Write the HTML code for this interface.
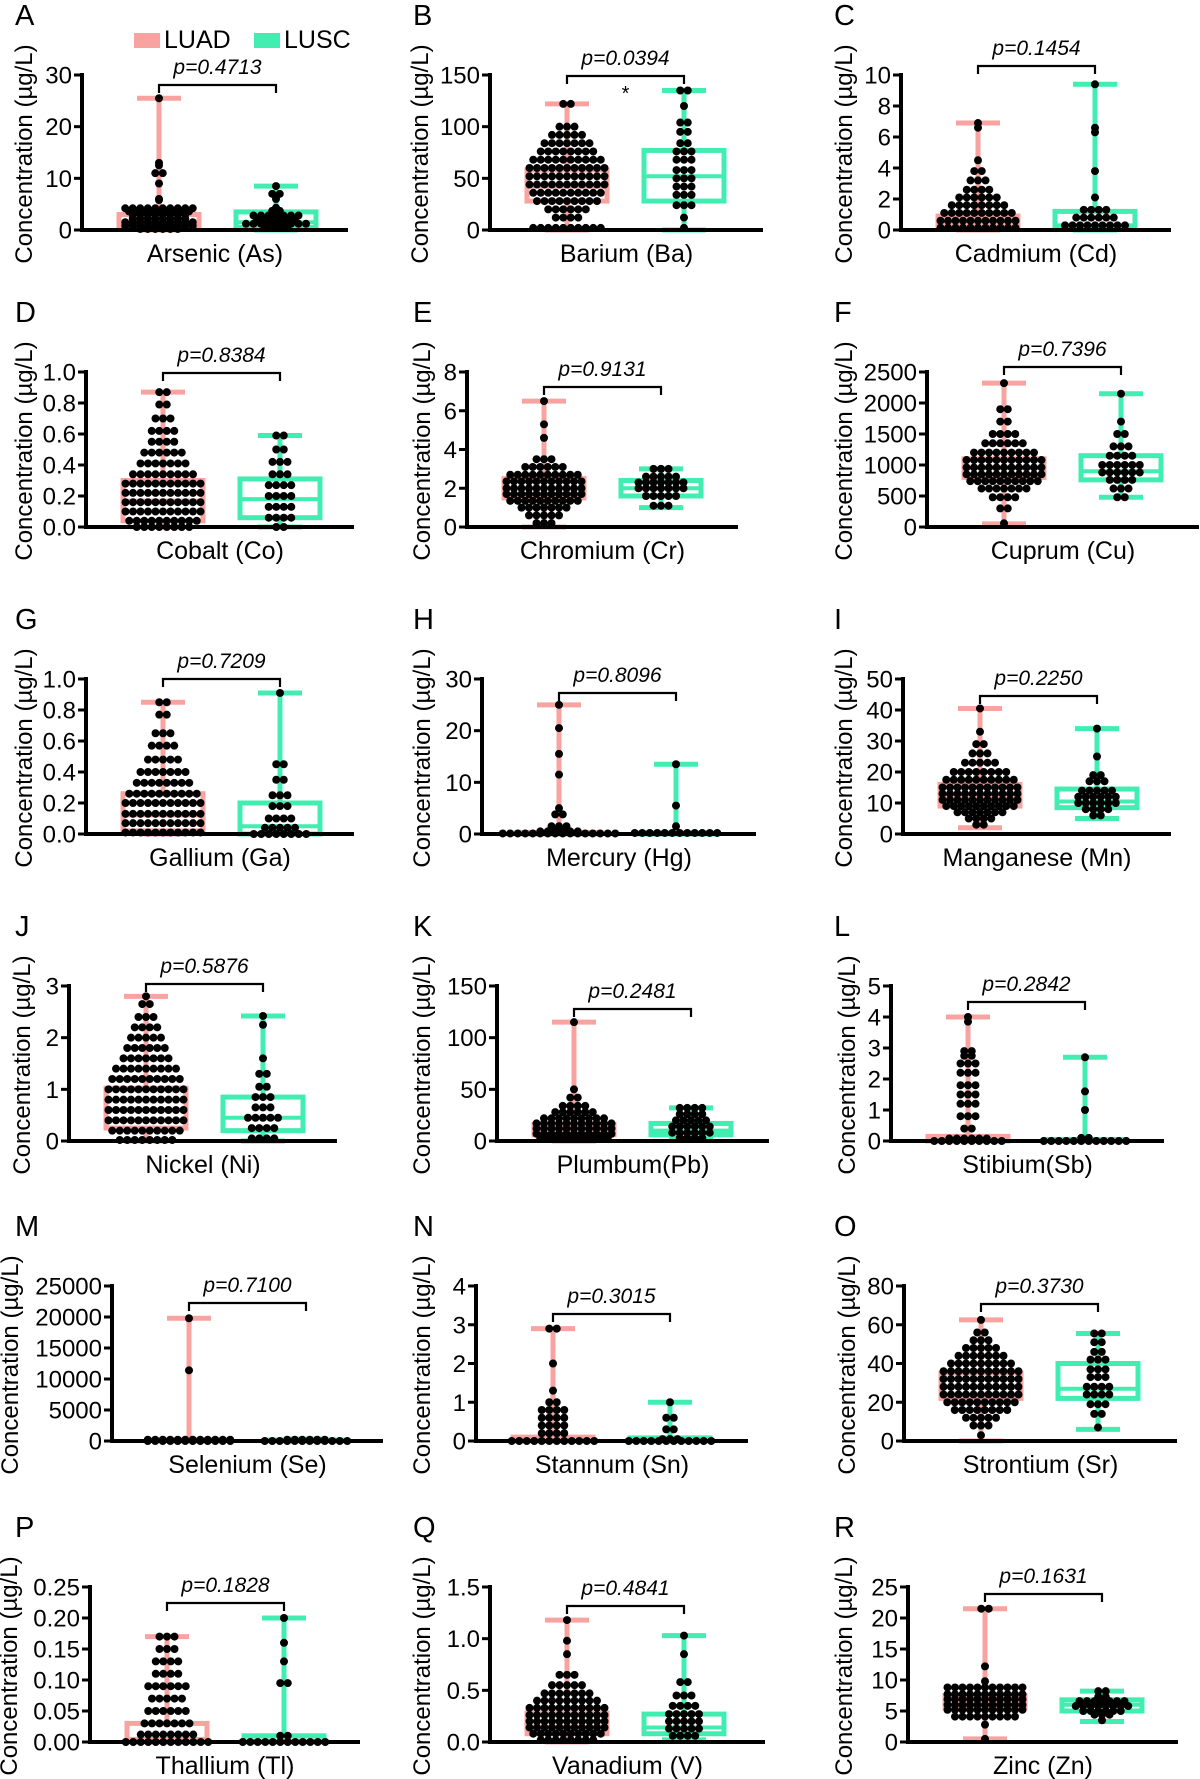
<!DOCTYPE html>
<html><head><meta charset="utf-8">
<style>
html,body{margin:0;padding:0;background:#fff;}
svg{display:block;font-family:"Liberation Sans",Arial,sans-serif;}
</style></head>
<body>
<svg id="fig" width="1200" height="1779" viewBox="0 0 1200 1779" xmlns="http://www.w3.org/2000/svg">
<g>
<rect x="134" y="33" width="26" height="15" fill="#F9A3A0"/>
<text x="164" y="48" font-size="25">LUAD</text>
<rect x="254" y="33" width="26" height="15" fill="#41EDB1"/>
<text x="284" y="48" font-size="25">LUSC</text>
</g>
</svg>
<script>
const letters=["A","B","C","D","E","F","G","H","I","J","K","L","M","N","O","P","Q","R"];
const elementNames=["Arsenic (As)","Barium (Ba)","Cadmium (Cd)","Cobalt (Co)","Chromium (Cr)","Cuprum (Cu)","Gallium (Ga)","Mercury (Hg)","Manganese (Mn)","Nickel (Ni)","Plumbum(Pb)","Stibium(Sb)","Selenium (Se)","Stannum (Sn)","Strontium (Sr)","Thallium (Tl)","Vanadium (V)","Zinc (Zn)"];
const pValues=["p=0.4713","p=0.0394","p=0.1454","p=0.8384","p=0.9131","p=0.7396","p=0.7209","p=0.8096","p=0.2250","p=0.5876","p=0.2481","p=0.2842","p=0.7100","p=0.3015","p=0.3730","p=0.1828","p=0.4841","p=0.1631"];
const yMaxes=[30,150,10,1.0,8,2500,1.0,30,50,3,150,5,25000,4,80,0.25,1.5,25];
const tickLabels=[
["0","10","20","30"],["0","50","100","150"],["0","2","4","6","8","10"],
["0.0","0.2","0.4","0.6","0.8","1.0"],["0","2","4","6","8"],["0","500","1000","1500","2000","2500"],
["0.0","0.2","0.4","0.6","0.8","1.0"],["0","10","20","30"],["0","10","20","30","40","50"],
["0","1","2","3"],["0","50","100","150"],["0","1","2","3","4","5"],
["0","5000","10000","15000","20000","25000"],["0","1","2","3","4"],["0","20","40","60","80"],
["0.00","0.05","0.10","0.15","0.20","0.25"],["0.0","0.5","1.0","1.5"],["0","5","10","15","20","25"]];
// box stats [min,q1,median,q3,max]
const luadBox=[[0,0.5,1.5,3,25.5],[0,28,42,58,122],[0,0.1,0.4,0.9,6.9],[0,0.04,0.17,0.3,0.87],[0,1.5,2,2.5,6.5],[50,800,950,1100,2320],[0,0.02,0.12,0.26,0.85],[0,0,0.1,0.3,25],[2,9,12,16,40.5],[0,0.25,0.6,1.02,2.8],[0,6,10,16,115],[0,0,0.02,0.15,4.0],[0,50,100,200,19800],[0,0,0.05,0.1,2.9],[0,22,28,35,62.5],[0,0,0.005,0.03,0.17],[0,0.08,0.15,0.28,1.18],[0.5,5.5,6.5,7.5,21.5]];
const luscBox=[[0,0.5,1.5,3.5,8.5],[0,28,52,77,135],[0,0.1,0.3,1.2,9.4],[0,0.06,0.18,0.31,0.59],[1,1.6,2.0,2.4,3.0],[480,760,900,1150,2150],[0,0,0.05,0.2,0.91],[0,0,0.05,0.2,13.5],[5,8.5,10.5,14.5,34],[0,0.2,0.45,0.85,2.42],[2,6,10,17,32],[0,0,0.01,0.05,2.7],[0,30,80,150,300],[0,0,0.02,0.08,1.0],[6,22,27,40,55.5],[0,0,0.002,0.01,0.2],[0.02,0.08,0.14,0.27,1.03],[3.3,5,6,6.8,8.2]];
// points as [value,count]
const luadPts=[
[[25.5,1],[13,1],[12.5,1],[11,2],[9,1],[6,1],[5.8,1],[4.2,10],[3.6,9],[3,8],[2.2,8],[1.5,10],[0.8,10],[0.2,6]],
[[122,2],[100,3],[92,5],[84,7],[76,8],[68,10],[60,11],[52,11],[44,11],[36,10],[28,9],[20,6],[12,4],[2,10]],
[[6.9,1],[6.6,1],[4.5,1],[3.8,2],[3.2,3],[2.6,4],[2.1,6],[1.6,8],[1.1,10],[0.6,11],[0.15,11]],
[[0.87,2],[0.79,2],[0.7,3],[0.62,4],[0.55,4],[0.48,6],[0.41,7],[0.34,9],[0.28,11],[0.22,11],[0.16,11],[0.1,11],[0.04,10],[0,8]],
[[6.5,1],[5.3,1],[4.6,1],[3.5,3],[3.1,6],[2.7,10],[2.35,11],[2,11],[1.7,11],[1.35,10],[1,7],[0.6,5],[0.2,3]],
[[2320,1],[1900,2],[1700,2],[1500,4],[1350,6],[1200,9],[1080,11],[960,11],[850,11],[740,10],[620,7],[480,4],[300,2],[60,1]],
[[0.85,2],[0.77,2],[0.65,3],[0.57,4],[0.48,5],[0.4,7],[0.33,8],[0.26,10],[0.2,11],[0.13,11],[0.07,11],[0.01,11]],
[[25,1],[20.5,1],[15.5,1],[11.5,1],[5,1],[3.8,2],[1.5,3],[0.5,6],[0.1,16]],
[[40.5,1],[33,1],[29,2],[26,3],[23,5],[20,8],[17.5,10],[15,11],[13,11],[11,11],[9,10],[7,7],[5,4],[3,2]],
[[2.8,1],[2.65,2],[2.4,3],[2.2,4],[2.0,5],[1.8,6],[1.6,7],[1.4,9],[1.2,10],[1.0,11],[0.8,11],[0.6,11],[0.4,11],[0.2,10],[0.02,8]],
[[115,1],[50,1],[42,2],[34,4],[28,6],[22,9],[17,11],[12,11],[7,11],[2,10]],
[[4.0,1],[3.85,1],[2.9,2],[2.75,2],[2.5,3],[2.2,3],[1.8,3],[1.5,3],[1.2,3],[0.8,3],[0.4,2],[0.08,6],[0,10]],
[[19800,1],[11400,1],[200,12],[0,12]],
[[2.9,2],[2.0,1],[1.3,1],[1.0,2],[0.8,4],[0.6,4],[0.4,4],[0.2,4],[0,12]],
[[62.5,1],[56,2],[52,3],[48,5],[44,7],[40,9],[36,11],[32,11],[28,11],[24,11],[20,10],[16,8],[12,5],[8,3],[3,1]],
[[0.17,3],[0.15,3],[0.13,4],[0.11,4],[0.09,6],[0.07,5],[0.05,6],[0.03,7],[0.012,8],[0,12]],
[[1.18,1],[0.98,1],[0.85,1],[0.65,3],[0.55,5],[0.47,7],[0.4,9],[0.33,11],[0.26,11],[0.2,11],[0.14,11],[0.08,10],[0.02,8]],
[[21.5,2],[12.2,1],[9.8,1],[8.8,11],[7.7,11],[6.9,11],[6,11],[5.2,11],[4.1,9],[2.8,1],[0.5,1]]];
const luscPts=[
[[8.5,1],[7,2],[6,1],[4.3,1],[3.7,2],[2.8,7],[2,6],[1.2,9],[0.4,4]],
[[135,2],[120,1],[104,2],[95,2],[84,2],[76,3],[68,3],[58,3],[50,3],[42,3],[34,3],[24,3],[12,1],[2,1]],
[[9.4,1],[6.6,1],[6.3,1],[3.8,1],[2.1,1],[1.3,4],[0.8,6],[0.3,9]],
[[0.59,2],[0.5,2],[0.42,3],[0.34,3],[0.27,4],[0.2,4],[0.13,4],[0.06,4],[0,2]],
[[3,3],[2.6,5],[2.3,7],[2,7],[1.6,5],[1.1,3]],
[[2150,1],[1700,1],[1500,2],[1300,3],[1150,4],[1000,6],[880,6],[760,4],[620,3],[480,2]],
[[0.91,1],[0.45,2],[0.35,2],[0.25,3],[0.18,3],[0.1,4],[0.04,5],[0,8]],
[[13.5,1],[5.5,1],[1.5,1],[0.2,12]],
[[34,1],[25,1],[19,2],[17,3],[14,5],[12,6],[10,6],[8,4],[6,2]],
[[2.42,1],[2.25,1],[1.6,1],[1.3,2],[1.05,2],[0.85,3],[0.65,3],[0.45,5],[0.25,4],[0.05,4]],
[[32,4],[26,4],[20,5],[14,6],[8,6],[3,4]],
[[2.7,1],[1.6,1],[1.0,1],[0.1,2],[0,12]],
[[200,6],[0,12]],
[[1.0,1],[0.6,2],[0.3,2],[0.05,3],[0,12]],
[[55.5,2],[51,2],[46,2],[42,3],[37,3],[33,3],[28,4],[24,4],[19,3],[14,2],[7,1]],
[[0.2,1],[0.16,1],[0.13,1],[0.095,2],[0.01,2],[0,12]],
[[1.03,1],[0.85,1],[0.58,2],[0.45,3],[0.35,4],[0.27,5],[0.2,5],[0.13,5],[0.06,4]],
[[8.2,2],[7.3,2],[6.6,7],[5.8,8],[5,6],[4.4,3],[3.5,1]]];

// layout (not data)
const axisXs=[82,490,901,86,467,927,86,482,903,69,497,891,112,476,904,90,490,908];
const axisEnds=[348,763,1171,354,738,1199,354,756,1171,337,769,1164,383,748,1177,360,765,1178];
const rowY0=[230,527,834,1141,1441,1742];
const colLetterX=[15,413,834];
const titleXs=[23,419,843,23,421,843,23,421,843,21,421,846,9,421,846,8,421,843];
const bracketOff=[145,154,164,154,140,160,155,141,138,157,132,139,138,127,137,139,136,148];
const H=155, PINK="#F9A3A0", GREEN="#41EDB1";
const NS="http://www.w3.org/2000/svg";
const svg=document.getElementById('fig');
function mk(tag,attrs,parent,text){const e=document.createElementNS(NS,tag);for(const k in attrs)e.setAttribute(k,attrs[k]);if(text!==undefined)e.textContent=text;parent.appendChild(e);return e;}

for(let i=0;i<18;i++){
  const col=i%3,row=Math.floor(i/3);
  const ax=axisXs[i],y0=rowY0[row],yMax=yMaxes[i];
  const c1=ax+77,c2=ax+194,mid=(c1+c2)/2;
  const ys=v=>y0-(v/yMax)*H;
  const g=mk('g',{},svg);
  
  
  const L=mk('text',{x:colLetterX[col],y:y0-205,'font-size':29},g,letters[i]);
  
  
  const T=mk('text',{x:0,y:0,'font-size':24,'text-anchor':'middle',transform:`translate(${titleXs[i]+9},${y0-76}) rotate(-90)`},g,'Concentration (µg/L)');
  
  
  const groups=[[luadBox[i],luadPts[i],c1,PINK,'luad'],[luscBox[i],luscPts[i],c2,GREEN,'lusc']];
  groups.forEach(([b,pts,cx,c,nm])=>{
    const gg=mk('g',{},g);
    
    
    const hw=40,cw=22;
    mk('line',{x1:cx,x2:cx,y1:ys(b[0]),y2:ys(b[4]),stroke:c,'stroke-width':5},gg);
    mk('line',{x1:cx-cw,x2:cx+cw,y1:ys(b[0]),y2:ys(b[0]),stroke:c,'stroke-width':5},gg);
    mk('line',{x1:cx-cw,x2:cx+cw,y1:ys(b[4]),y2:ys(b[4]),stroke:c,'stroke-width':5},gg);
    mk('rect',{x:cx-hw,y:ys(b[3]),width:2*hw,height:Math.max(ys(b[1])-ys(b[3]),0),fill:'#fff',stroke:c,'stroke-width':5},gg);
    mk('line',{x1:cx-hw,x2:cx+hw,y1:ys(b[2]),y2:ys(b[2]),stroke:c,'stroke-width':4},gg);
    const dg=mk('g',{fill:'#000'},g);
    
    
    pts.forEach(([v,n])=>{
      for(let k=0;k<n;k++){
        const dx=(k-(n-1)/2)*7.5;
        const d=mk('circle',{cx:cx+dx,cy:ys(v),r:4},dg);
        
        
      }
    });
  });
  const yA=mk('g',{},g);
  
  
  mk('line',{x1:ax,x2:ax,y1:y0+2,y2:y0-H-2,stroke:'#000','stroke-width':4},yA);
  const tl=tickLabels[i];
  tl.forEach((lab,k)=>{
    const v=yMax*k/(tl.length-1), y=ys(v);
    mk('line',{x1:ax-8,x2:ax,y1:y,y2:y,stroke:'#000','stroke-width':3},yA);
    const t=mk('text',{x:ax-10,y:y+8.5,'font-size':24,'text-anchor':'end'},yA,lab);
    
    
  });
  const xA=mk('line',{x1:ax-2,x2:axisEnds[i],y1:y0,y2:y0,stroke:'#000','stroke-width':4},g);
  
  
  const xl=mk('text',{x:(ax+axisEnds[i])/2,y:y0+32,'font-size':25,'text-anchor':'middle'},g,elementNames[i]);
  
  
  const by=y0-bracketOff[i];
  const br=mk('path',{d:`M${c1},${by+8}V${by}H${c2}V${by+8}`,fill:'none',stroke:'#000','stroke-width':2.2},g);
  
  
  const pt=mk('text',{x:mid,y:by-11,'font-size':21,'font-style':'italic','text-anchor':'middle'},g,pValues[i]);
  
  
  if(i===1){
    const st=mk('text',{x:mid,y:by+24,'font-size':20,'text-anchor':'middle'},g,'*');
    
    
  }
}
</script>
</body></html>
